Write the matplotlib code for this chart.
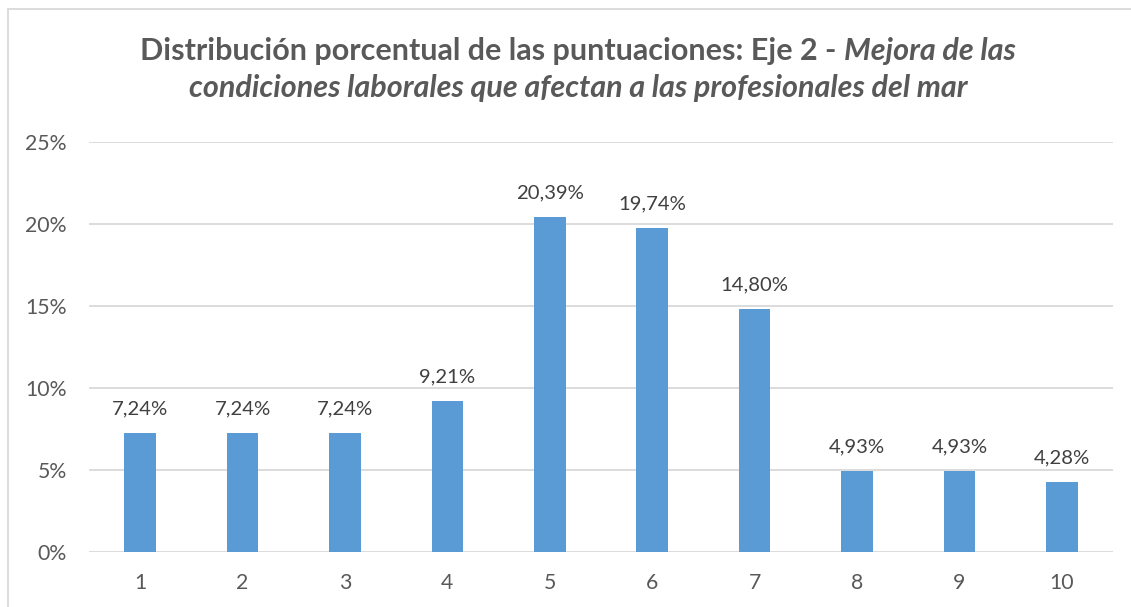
import matplotlib
matplotlib.use("Agg")
import matplotlib.pyplot as plt
from matplotlib.lines import Line2D

categories = ["1", "2", "3", "4", "5", "6", "7", "8", "9", "10"]
values = [7.24, 7.24, 7.24, 9.21, 20.39, 19.74, 14.80, 4.93, 4.93, 4.28]
value_labels = ["7,24%", "7,24%", "7,24%", "9,21%", "20,39%", "19,74%", "14,80%", "4,93%", "4,93%", "4,28%"]
y_ticks = [0, 5, 10, 15, 20, 25]
y_tick_labels = ["0%", "5%", "10%", "15%", "20%", "25%"]
title_line1_regular = "Distribución porcentual de las puntuaciones: Eje 2 - "
title_line1_italic = "Mejora de las"
title_line2_italic = "condiciones laborales que afectan a las profesionales del mar"

FONT = "Lato"
W, H = 1131, 607
fig = plt.figure(figsize=(W / 100, H / 100), dpi=100)
fig.patch.set_facecolor("white")

ax = fig.add_axes([89 / W, (H - 552.3) / H, (1113 - 89) / W, (552.3 - 141.8) / H])
x = list(range(len(categories)))
ax.bar(x, values, width=0.31, color="#5b9bd5", zorder=3)
ax.set_xlim(-0.5, len(categories) - 0.5)
ax.set_ylim(0, 25)
ax.set_yticks(y_ticks)
ax.set_yticklabels(y_tick_labels)
ax.set_xticks(x)
ax.set_xticklabels(categories)
for s in ax.spines.values():
    s.set_visible(False)
ax.grid(axis="y", color="#d9d9d9", linewidth=1.3, zorder=0)
ax.set_axisbelow(True)
ax.tick_params(axis="both", length=0, labelsize=15.3, labelcolor="#595959")
ax.tick_params(axis="y", pad=16)
ax.tick_params(axis="x", pad=15)
for lbl in ax.get_xticklabels() + ax.get_yticklabels():
    lbl.set_family(FONT)

for xi, v, lab in zip(x, values, value_labels):
    ax.annotate(lab, (xi, v), xytext=(0, 13.5), textcoords="offset points",
                ha="center", va="baseline", fontsize=14.6, color="#404040", family=FONT)

# frame lines (top and left)
fig.add_artist(Line2D([7.5 / W, 7.5 / W], [0, (H - 9) / H], color="#d9d9d9", lw=1.3, transform=fig.transFigure))
fig.add_artist(Line2D([7.5 / W, 1], [(H - 9) / H, (H - 9) / H], color="#d9d9d9", lw=1.3, transform=fig.transFigure))

# title
tsize = 22
tcolor = "#595959"
t1 = fig.text(0, 0, title_line1_regular, fontsize=tsize, fontweight="bold", color=tcolor, family=FONT, va="baseline", ha="left")
t2 = fig.text(0, 0, title_line1_italic, fontsize=tsize, fontweight="bold", style="italic", color=tcolor, family=FONT, va="baseline", ha="left")
fig.canvas.draw()
r = fig.canvas.get_renderer()
w1 = t1.get_window_extent(r).width
w2 = t2.get_window_extent(r).width
cx = 578
start = cx - (w1 + w2) / 2
y1 = H - 60
t1.set_position((start / W, y1 / H))
t2.set_position(((start + w1) / W, y1 / H))
fig.text(cx / W, (H - 97) / H, title_line2_italic, fontsize=tsize, fontweight="bold", style="italic",
         color=tcolor, family=FONT, va="baseline", ha="center")

fig.savefig("out.png", dpi=100)
